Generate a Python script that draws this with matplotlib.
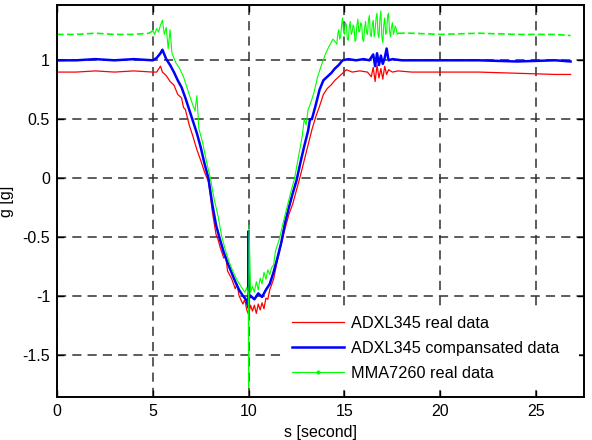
import matplotlib.pyplot as plt
from matplotlib.lines import Line2D
from matplotlib.patches import Rectangle
import numpy as np

plt.rcParams['font.family'] = ['Liberation Sans', 'DejaVu Sans']
plt.rcParams['font.size'] = 11.5

# ADXL345 real data (red)
red_t = [0.0, 1.0, 2.0, 3.0, 4.0, 5.0, 5.2, 5.4, 5.5, 5.7, 5.9, 6.1, 6.3, 6.5, 6.6, 6.7, 6.9,
         7.0, 7.1, 7.3, 7.5, 7.7, 7.9, 8.0, 8.1, 8.3, 8.4, 8.5, 8.7, 8.8, 8.9, 9.1, 9.3, 9.4,
         9.5, 9.7, 9.8, 9.9, 10.0, 10.1, 10.2, 10.3, 10.4, 10.5, 10.6, 10.7, 10.8, 10.9, 11.0,
         11.1, 11.3, 11.5, 11.7, 11.9, 12.1, 12.3, 12.5, 12.7, 12.9, 13.1, 13.3, 13.5, 13.7,
         13.9, 14.1, 14.3, 14.5, 14.7, 14.9, 15.1, 15.4, 15.8, 16.2, 16.4, 16.5, 16.6, 16.7,
         16.8, 16.9, 17.0, 17.1, 17.2, 17.3, 17.5, 17.8, 18.5, 20.0, 22.0, 24.0, 26.0, 26.8]
red_g = [0.90, 0.90, 0.91, 0.90, 0.91, 0.90, 0.90, 0.95, 0.90, 0.87, 0.82, 0.79, 0.71, 0.68, 0.60, 0.58, 0.45,
         0.40, 0.35, 0.24, 0.15, 0.05, -0.03, -0.14, -0.28, -0.48, -0.52, -0.58, -0.68, -0.66, -0.79, -0.85, -0.94, -0.90,
         -1.00, -1.07, -1.03, -1.12, -1.16, -1.08, -1.13, -1.08, -1.15, -1.07, -1.12, -1.06, -1.11, -1.02, -1.03,
         -0.95, -0.86, -0.70, -0.56, -0.43, -0.31, -0.22, -0.10, 0.02, 0.15, 0.28, 0.41, 0.52, 0.61,
         0.71, 0.76, 0.79, 0.83, 0.86, 0.89, 0.92, 0.90, 0.91, 0.90, 0.86, 0.94, 0.82, 0.96,
         0.85, 0.93, 0.84, 0.95, 0.88, 0.92, 0.90, 0.91, 0.90, 0.90, 0.90, 0.89, 0.88, 0.88]

# ADXL345 compansated data (blue)
blue_t = [0.0, 1.0, 2.0, 3.0, 4.0, 5.0, 5.2, 5.4, 5.5, 5.7, 5.9, 6.1, 6.3, 6.5, 6.7, 6.9, 7.1,
          7.3, 7.5, 7.7, 7.9, 8.1, 8.3, 8.5, 8.7, 8.9, 9.1, 9.3, 9.5, 9.7, 9.9, 9.98, 10.0,
          10.02, 10.1, 10.3, 10.5, 10.7, 10.9, 11.1, 11.3, 11.5, 11.7, 11.9, 12.1, 12.3, 12.5,
          12.7, 12.9, 13.1, 13.2, 13.3, 13.5, 13.7, 13.9, 14.1, 14.3, 14.5, 14.7, 14.9, 15.2,
          15.6, 16.0, 16.3, 16.5, 16.6, 16.7, 16.8, 16.9, 17.0, 17.1, 17.2, 17.3, 17.5, 18.0,
          20.0, 22.0, 24.0, 26.0, 26.8]
blue_g = [1.00, 1.00, 1.01, 1.00, 1.01, 1.00, 1.02, 1.06, 1.09, 1.01, 0.96, 0.90, 0.83, 0.77, 0.68, 0.58, 0.48,
          0.38, 0.26, 0.12, 0.00, -0.22, -0.40, -0.52, -0.63, -0.72, -0.80, -0.88, -0.95, -1.00, -1.04, -1.10, -0.45,
          -1.02, -1.00, -1.03, -0.98, -1.01, -0.95, -0.90, -0.80, -0.68, -0.55, -0.38, -0.25, -0.13, -0.02,
          0.13, 0.27, 0.40, 0.50, 0.50, 0.62, 0.75, 0.83, 0.86, 0.89, 0.93, 0.96, 1.00, 1.01,
          1.00, 1.01, 1.00, 1.05, 0.95, 1.06, 0.96, 1.04, 0.97, 1.02, 1.10, 1.00, 1.01, 1.00,
          1.00, 1.00, 0.99, 1.00, 0.99]

# MMA7260 real data (green): flat start, active part, noisy top, flat end
green_t_a = [0.0, 1.0, 2.0, 3.0, 4.0, 4.8, 5.0]
green_g_a = [1.22, 1.22, 1.23, 1.22, 1.22, 1.23, 1.25]
green_t_b = [5.0, 5.1, 5.2, 5.3, 5.4, 5.5, 5.6, 5.7, 5.8, 5.9, 6.0, 6.2, 6.4, 6.6, 6.8, 7.0, 7.2,
             7.3, 7.4, 7.6, 7.8, 8.0, 8.2, 8.4, 8.6, 8.8, 9.0, 9.2, 9.4, 9.6, 9.8, 9.9, 9.98, 10.0,
             10.02, 10.1, 10.2, 10.3, 10.4, 10.5, 10.6, 10.7, 10.8, 10.9, 11.0, 11.1, 11.2, 11.3,
             11.4, 11.6, 11.8, 12.0, 12.2, 12.4, 12.6, 12.8, 12.9, 13.0, 13.1, 13.2, 13.4, 13.6,
             13.8, 14.0, 14.2, 14.4, 14.6]
green_g_b = [1.25, 1.22, 1.27, 1.24, 1.30, 1.34, 1.22, 1.28, 1.10, 1.26, 1.06, 0.98, 0.93, 0.86, 0.76, 0.66, 0.57,
             0.70, 0.42, 0.30, 0.14, 0.00, -0.18, -0.32, -0.50, -0.62, -0.72, -0.80, -0.87, -0.92, -0.97, -0.93, -1.00, -1.78,
             -0.40, -0.97, -0.92, -0.97, -0.88, -0.95, -0.85, -0.90, -0.80, -0.86, -0.78, -0.82, -0.76, -0.74,
             -0.62, -0.52, -0.38, -0.25, -0.12, 0.00, 0.18, 0.36, 0.50, 0.45, 0.58, 0.62, 0.72, 0.86,
             0.96, 1.05, 1.12, 1.18, 1.14]
green_t_top = [14.60, 14.65, 14.70, 14.75, 14.80, 14.85, 14.90, 14.95, 15.00, 15.05, 15.10, 15.15,
               15.20, 15.25, 15.30, 15.35, 15.40, 15.45, 15.50, 15.55, 15.60, 15.65, 15.70, 15.75,
               15.80, 15.85, 15.90, 15.95, 16.00, 16.05, 16.10, 16.15, 16.20, 16.25, 16.30, 16.35,
               16.40, 16.45, 16.50, 16.55, 16.60, 16.65, 16.70, 16.75, 16.80, 16.85, 16.90, 16.95,
               17.00, 17.05, 17.10, 17.15, 17.20, 17.25, 17.30, 17.35, 17.40, 17.45, 17.50, 17.55,
               17.60, 17.65, 17.70, 17.75, 17.80]
green_g_top = [1.14, 1.22, 1.26, 1.18, 1.20, 1.30, 1.36, 1.24, 1.22, 1.32, 1.30, 1.18,
               1.17, 1.28, 1.33, 1.22, 1.24, 1.30, 1.28, 1.16, 1.18, 1.30, 1.35, 1.24,
               1.25, 1.32, 1.30, 1.18, 1.16, 1.27, 1.33, 1.24, 1.22, 1.34, 1.38, 1.22,
               1.20, 1.30, 1.34, 1.20, 1.26, 1.36, 1.40, 1.22, 1.19, 1.35, 1.42, 1.20,
               1.15, 1.30, 1.36, 1.22, 1.24, 1.38, 1.40, 1.25, 1.20, 1.28, 1.32, 1.22,
               1.25, 1.29, 1.27, 1.22, 1.23]
green_t_c = [17.8, 18.5, 20.0, 22.0, 24.0, 26.0, 26.8]
green_g_c = [1.23, 1.23, 1.22, 1.23, 1.22, 1.22, 1.21]

labels = ['ADXL345 real data', 'ADXL345 compansated data', 'MMA7260 real data']

fig = plt.figure(figsize=(5.92, 4.4), dpi=100)
ax = fig.add_axes([0.0963, 0.0977, 0.8902, 0.891])

ax.plot(red_t, red_g, color='#ff0000', lw=0.9)
ax.plot(blue_t, blue_g, color='#0000ff', lw=1.8)
ax.plot(green_t_b, green_g_b, color='#00ff00', lw=0.8)
ax.plot(green_t_top, green_g_top, color='#00ff00', lw=0.8)
ax.plot(green_t_a, green_g_a, color='#00ff00', lw=1.2, ls=(0, (4, 2)))
ax.plot(green_t_c, green_g_c, color='#00ff00', lw=1.2, ls=(0, (4, 2)))

ax.set_xlim(0, 27.5)
ax.set_ylim(-1.86, 1.47)
ax.set_xticks([0, 5, 10, 15, 20, 25])
ax.set_yticks([-1.5, -1, -0.5, 0, 0.5, 1])
ax.set_yticklabels(['-1.5', '-1', '-0.5', '0', '0.5', '1'])
ax.tick_params(direction='in', top=True, right=True, length=5, width=1.0, pad=5)
ax.grid(True, color='#303030', ls=(0, (6, 4)), lw=1.1)
for s in ax.spines.values():
    s.set_linewidth(1.4)
    s.set_zorder(6)

ax.set_xlabel('s [second]', labelpad=4)
ax.set_ylabel('g [g]', labelpad=6)

handles = [Line2D([], [], color='#ff0000', lw=0.9),
           Line2D([], [], color='#0000ff', lw=1.8),
           Line2D([], [], color='#00ff00', lw=0.8, marker='.', markersize=4)]
leg = ax.legend(handles, labels, loc='lower right', bbox_to_anchor=(0.983, 0.0),
                numpoints=1, handlelength=3.2, handletextpad=0.4,
                labelspacing=0.62, fancybox=False, framealpha=1, edgecolor='white',
                borderaxespad=0.5, borderpad=0.5, fontsize=11.7)

# white area between legend box and right spine, leaving the tick mark visible
fig.canvas.draw()
bb = leg.get_window_extent().transformed(ax.transAxes.inverted())
ax.add_patch(Rectangle((bb.x1 - 0.01, bb.y0), 0.99 - bb.x1 + 0.01, bb.height,
                       transform=ax.transAxes, facecolor='white', edgecolor='none',
                       zorder=4.5))

fig.savefig('out.png', dpi=100)
